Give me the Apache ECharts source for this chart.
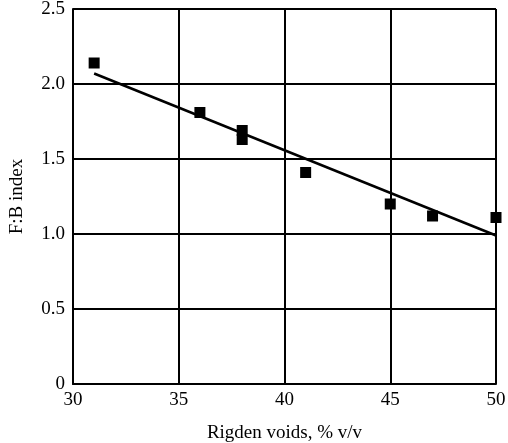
<!DOCTYPE html>
<html>
<head>
<meta charset="utf-8">
<script src="https://cdn.jsdelivr.net/npm/echarts@6/dist/echarts.min.js"></script>
<style>
  html, body { margin: 0; padding: 0; background: #fff; }
  #main { width: 508px; height: 443px; }
</style>
</head>
<body>
<div id="main"></div>
<script>
// measured points (Rigden voids vs F:B index)
const voids = [31, 36, 38, 38, 41, 45, 47, 50]
const fbIndex = [2.14, 1.81, 1.69, 1.63, 1.41, 1.2, 1.12, 1.11]
// fitted line end points
const fitX = [31, 50]
const fitY = [2.07, 0.99]

const font = '"Liberation Serif", "DejaVu Serif", serif'
const myChart = echarts.init(document.getElementById('main'))

myChart.setOption({
  animation: false,
  grid: { left: 73, right: 12, top: 9, bottom: 59, outerBoundsMode: 'none' },
  xAxis: {
    type: 'value',
    min: 30,
    max: 50,
    interval: 5,
    name: 'Rigden voids, % v/v',
    nameLocation: 'middle',
    nameGap: 40,
    nameTextStyle: { fontFamily: font, fontSize: 19, color: '#000' },
    axisLine: { lineStyle: { color: '#000', width: 2 } },
    axisTick: { show: false },
    axisLabel: { fontFamily: font, fontSize: 19, color: '#000', margin: 7 },
    splitLine: { show: true, lineStyle: { color: '#000', width: 2 } }
  },
  yAxis: {
    type: 'value',
    min: 0,
    max: 2.5,
    interval: 0.5,
    name: 'F:B index',
    nameLocation: 'middle',
    nameGap: 46,
    nameTextStyle: { fontFamily: font, fontSize: 19, color: '#000' },
    axisLine: { show: true, lineStyle: { color: '#000', width: 2 } },
    axisTick: { show: false },
    axisLabel: {
      fontFamily: font, fontSize: 19, color: '#000', margin: 8,
      formatter: function (v) { return v === 0 ? '0' : v.toFixed(1) }
    },
    splitLine: { show: true, lineStyle: { color: '#000', width: 2 } }
  },
  series: [{
    type: 'line',
    data: fitX.map(function (x, i) { return [x, fitY[i]] }),
    showSymbol: false,
    lineStyle: { color: '#000', width: 2.5 },
    z: 3
  }, {
    type: 'scatter',
    data: voids.map(function (x, i) { return [x, fbIndex[i]] }),
    symbol: 'rect',
    symbolSize: 11,
    itemStyle: { color: '#000', opacity: 1 },
    z: 4
  }]
})
</script>
</body>
</html>
